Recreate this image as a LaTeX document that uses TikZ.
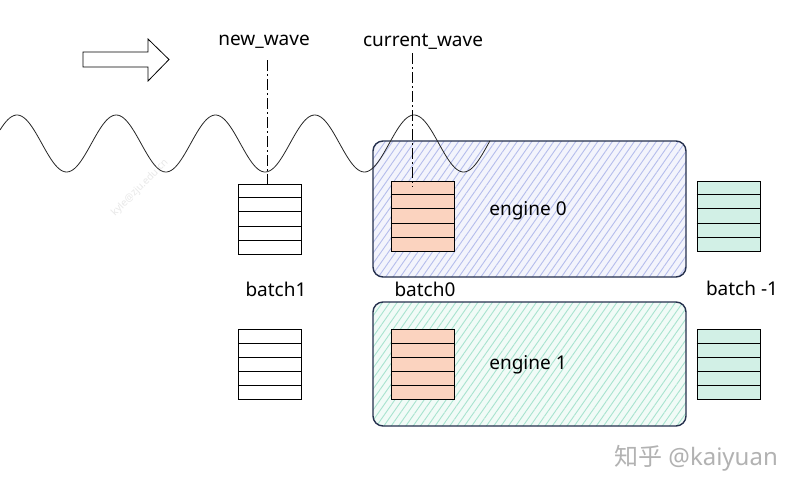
\documentclass[tikz,border=0pt]{standalone}
\usepackage{fontspec}
\setmainfont{Noto Sans}
\newfontfamily\cjk{Noto Sans CJK SC}
\usetikzlibrary{calc,patterns.meta}
\definecolor{navy}{HTML}{25304D}
\definecolor{bluehatch}{HTML}{B5BDEC}
\definecolor{bluebg}{HTML}{F3F4FC}
\definecolor{tealhatch}{HTML}{A8E3CF}
\definecolor{tealbg}{HTML}{F1FBF7}
\definecolor{peach}{HTML}{FBD3BF}
\definecolor{mint}{HTML}{D2F0E6}
\tikzset{
  lbl/.style={font=\fontsize{19}{22}\selectfont, inner sep=0pt},
  stackbox/.style={draw=black, line width=0.9pt, minimum width=63pt, minimum height=70pt, inner sep=0pt},
  engine/.style={draw=navy, line width=1.4pt, rounded corners=10pt, minimum width=313pt, inner sep=0pt},
  dashdotline/.style={line width=0.8pt, dash pattern=on 11pt off 3pt on 2pt off 3pt},
}
\newcommand\mystack[4]{%
  \node[stackbox,fill=#4] (#1) at (#2,#3) {};
  \foreach \i in {1,...,4}
    \draw[line width=0.9pt] ($(#1.north west)!\i/5!(#1.south west)$) -- ($(#1.north east)!\i/5!(#1.south east)$);
}
\begin{document}
\begin{tikzpicture}[x=1pt,y=-1pt]
\useasboundingbox[fill=white] (0,0) rectangle (797,493);
% faint watermark
\node[rotate=45, text=black!9, font=\fontsize{10}{12}\selectfont] (wm) at (140,188) {kyle@zju.edu.cn};
% engines
\node[engine, minimum height=136pt, preaction={fill=bluebg},
  pattern={Lines[angle=55,distance=6pt,line width=0.9pt]}, pattern color=bluehatch] (e0) at (529.5,209) {};
\node[lbl] (e0t) at (528,211) {engine 0};
\node[engine, minimum height=124pt, preaction={fill=tealbg},
  pattern={Lines[angle=55,distance=6pt,line width=0.9pt]}, pattern color=tealhatch] (e1) at (529.5,364) {};
\node[lbl] (e1t) at (528,365) {engine 1};
% stacks
\mystack{b1t}{270}{219}{white}
\mystack{b1b}{270}{364.5}{white}
\mystack{b0t}{422.5}{216}{peach}
\mystack{b0b}{422.5}{364.5}{peach}
\mystack{bmt}{728.5}{216}{mint}
\mystack{bmb}{728.5}{364.5}{mint}
% labels
\node[lbl] (nb1) at (276,289) {batch1};
\node[lbl] (nb0) at (425,289) {batch0};
\node[lbl] (nbm) at (742,288) {batch -1};
\node[lbl] (nw) at (264,42) {new\_wave};
\node[lbl] (cw) at (423,42) {current\_wave};
% wave
\draw[line width=0.8pt, black!85] plot[domain=0:490, samples=250, smooth] (\x, {143.5-28.5*cos(3.62720*(\x-17))});
% dash-dot lines
\coordinate (nwl) at (267,60);
\coordinate (cwl) at (412,53);
\draw[dashdotline] (nwl) -- (nwl |- b1t.north);
\draw[dashdotline] (cwl) -- ($(cwl |- b0t.north)+(0,6)$);
% big arrow
\draw[line width=0.8pt] (83,52) -- (148,52) -- (148,39) -- (169,59.5) -- (148,81) -- (148,67) -- (83,67) -- cycle;
% signature
\node[text=black!30, font=\fontsize{24}{28}\selectfont, anchor=west, inner sep=0pt] (sig) at (614,458) {{\cjk 知乎} @kaiyuan};
\end{tikzpicture}
\end{document}
